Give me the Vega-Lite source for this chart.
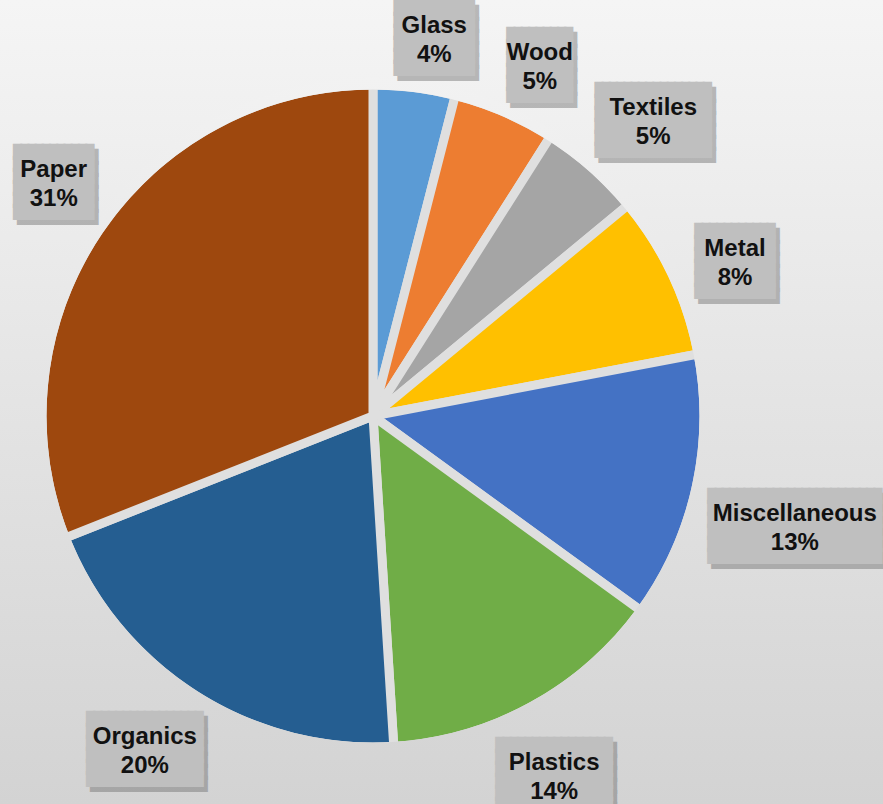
{
  "$schema": "https://vega.github.io/schema/vega-lite/v6.json",
  "width": 883,
  "height": 804,
  "autosize": {"type": "none"},
  "padding": 0,
  "background": "#e4e4e4",
  "view": {
    "stroke": null,
    "fill": {
      "gradient": "linear", "x1": 0, "y1": 0, "x2": 0, "y2": 1,
      "stops": [
        {"offset": 0, "color": "#f5f5f5"},
        {"offset": 0.5, "color": "#e4e4e4"},
        {"offset": 1, "color": "#d3d3d3"}
      ]
    }
  },
  "data": {
    "values": [
      {"rank": 1, "category": "Glass", "pct": 4},
      {"rank": 2, "category": "Wood", "pct": 5},
      {"rank": 3, "category": "Textiles", "pct": 5},
      {"rank": 4, "category": "Metal", "pct": 8},
      {"rank": 5, "category": "Miscellaneous", "pct": 13},
      {"rank": 6, "category": "Plastics", "pct": 14},
      {"rank": 7, "category": "Organics", "pct": 20},
      {"rank": 8, "category": "Paper", "pct": 31}
    ]
  },
  "layer": [
    {
      "mark": {"type": "arc", "radius": 331, "stroke": "#dfdfdf", "strokeWidth": 9, "strokeJoin": "miter", "xOffset": -68.5, "yOffset": 14},
      "encoding": {
        "theta": {"field": "pct", "type": "quantitative", "stack": true},
        "order": {"field": "rank", "type": "quantitative"},
        "color": {
          "field": "category", "type": "nominal", "legend": null,
          "scale": {
            "domain": ["Glass", "Wood", "Textiles", "Metal", "Miscellaneous", "Plastics", "Organics", "Paper"],
            "range": ["#5B9BD5", "#ED7D31", "#A5A5A5", "#FFC000", "#4472C4", "#70AD47", "#255E91", "#9E480E"]
          }
        }
      }
    },
    {
      "transform": [{"aggregate": [{"op": "sum", "field": "pct", "as": "pct"}]}],
      "mark": {
        "type": "arc", "radius": 338, "radius2": 326.5, "xOffset": -68.5, "yOffset": 14,
        "fill": {
          "gradient": "linear", "x1": 0, "y1": 0, "x2": 0, "y2": 1,
          "stops": [
            {"offset": 0, "color": "#f2f2f2"},
            {"offset": 0.479, "color": "#e4e4e4"},
            {"offset": 1, "color": "#d5d5d5"}
          ]
        }
      },
      "encoding": {
        "theta": {"field": "pct", "type": "quantitative", "stack": true}
      }
    },
    {
      "mark": {
        "type": "text", "xOffset": -68.5, "yOffset": 14, "dx": 4, "dy": -25, "thetaOffset": 0.035,
        "font": "DejaVu Sans Mono", "fontSize": 12, "lineHeight": 12,
        "align": "center", "baseline": "middle",
        "fill": "#6f6f6f", "stroke": "#6f6f6f", "strokeWidth": 2, "strokeJoin": "miter",
        "opacity": 0.45,
        "radius": {"expr": "341 + (6*length(datum.category)+11)*abs(sin(PI*(datum.pct_start+datum.pct_end)/100)) + 37*abs(cos(PI*(datum.pct_start+datum.pct_end)/100))"},
        "text": {"expr": "split(pad('', 6, pad('', round((12*length(datum.category)+20)/7.22), '\u2588') + '|'), '|', 6)"}
      },
      "encoding": {
        "theta": {"field": "pct", "type": "quantitative", "stack": true},
        "order": {"field": "rank", "type": "quantitative"},
        "detail": {"field": "category", "type": "nominal"}
      }
    },
    {
      "mark": {
        "type": "text", "xOffset": -68.5, "yOffset": 14, "dy": -30, "thetaOffset": 0.035,
        "font": "DejaVu Sans Mono", "fontSize": 12, "lineHeight": 12,
        "align": "center", "baseline": "middle",
        "fill": "#bfbfbf", "stroke": "#bfbfbf", "strokeWidth": 2, "strokeJoin": "miter",
        "radius": {"expr": "341 + (6*length(datum.category)+11)*abs(sin(PI*(datum.pct_start+datum.pct_end)/100)) + 37*abs(cos(PI*(datum.pct_start+datum.pct_end)/100))"},
        "text": {"expr": "split(pad('', 6, pad('', round((12*length(datum.category)+20)/7.22), '\u2588') + '|'), '|', 6)"}
      },
      "encoding": {
        "theta": {"field": "pct", "type": "quantitative", "stack": true},
        "order": {"field": "rank", "type": "quantitative"},
        "detail": {"field": "category", "type": "nominal"}
      }
    },
    {
      "mark": {
        "type": "text", "xOffset": -68.5, "yOffset": 14, "dy": -12, "thetaOffset": 0.035,
        "font": "Liberation Sans", "fontSize": 24, "fontWeight": "bold", "lineHeight": 29,
        "align": "center", "baseline": "middle", "fill": "#111111",
        "radius": {"expr": "341 + (6*length(datum.category)+11)*abs(sin(PI*(datum.pct_start+datum.pct_end)/100)) + 37*abs(cos(PI*(datum.pct_start+datum.pct_end)/100))"},
        "text": {"expr": "[datum.category, datum.pct + '%']"}
      },
      "encoding": {
        "theta": {"field": "pct", "type": "quantitative", "stack": true},
        "order": {"field": "rank", "type": "quantitative"},
        "detail": {"field": "category", "type": "nominal"}
      }
    }
  ]
}
